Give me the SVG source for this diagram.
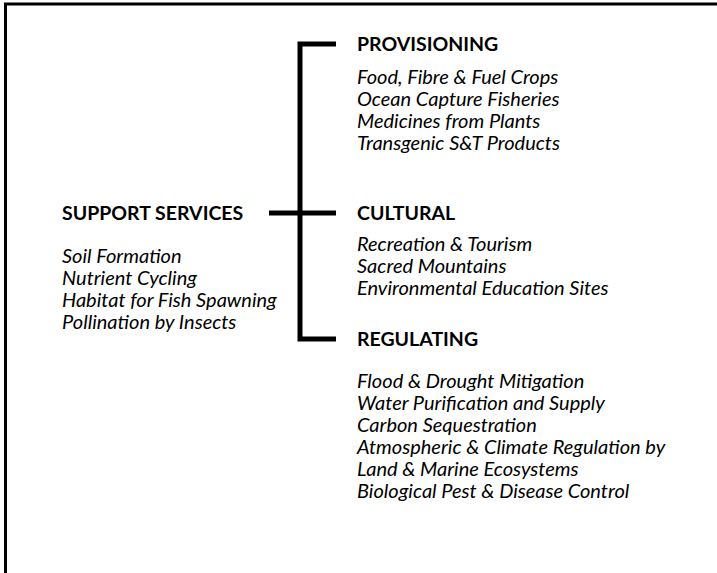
<svg xmlns="http://www.w3.org/2000/svg" width="717" height="573" viewBox="0 0 717 573">
  <style>
    .frame { fill: none; stroke: #000; stroke-width: 3; }
    .link { fill: none; stroke: #000; stroke-width: 5; stroke-linejoin: miter; }
    .head { font-family: Lato, "Open Sans", "Liberation Sans", sans-serif; font-weight: bold; font-size: 19.5px; fill: #000; }
    .item { font-family: Lato, "Open Sans", "Liberation Sans", sans-serif; font-style: italic; font-size: 20px; fill: #000; }
  </style>
  <rect width="717" height="573" fill="#fff"/>
  <!-- open frame: left and top edges only -->
  <path class="frame" d="M5.5,573 V4 H717"/>

  <!-- bracket joining the support services to the three service groups -->
  <g id="connectors">
    <path class="link" d="M336,44 H300 V339 H336"/>
    <path class="link" d="M269,213 H336"/>
  </g>

  <g id="support">
    <text class="head" x="62" y="220">SUPPORT SERVICES</text>
    <text class="item" x="62" y="263">Soil Formation</text>
    <text class="item" x="62" y="285">Nutrient Cycling</text>
    <text class="item" x="62" y="307">Habitat for Fish Spawning</text>
    <text class="item" x="62" y="329">Pollination by Insects</text>
  </g>

  <g id="provisioning">
    <text class="head" x="357" y="51">PROVISIONING</text>
    <text class="item" x="357" y="84">Food, Fibre &amp; Fuel Crops</text>
    <text class="item" x="357" y="106">Ocean Capture Fisheries</text>
    <text class="item" x="357" y="128">Medicines from Plants</text>
    <text class="item" x="357" y="150">Transgenic S&amp;T Products</text>
  </g>

  <g id="cultural">
    <text class="head" x="357" y="220">CULTURAL</text>
    <text class="item" x="357" y="251">Recreation &amp; Tourism</text>
    <text class="item" x="357" y="273">Sacred Mountains</text>
    <text class="item" x="357" y="295">Environmental Education Sites</text>
  </g>

  <g id="regulating">
    <text class="head" x="357" y="346">REGULATING</text>
    <text class="item" x="357" y="388">Flood &amp; Drought Mitigation</text>
    <text class="item" x="357" y="410">Water Purification and Supply</text>
    <text class="item" x="357" y="432">Carbon Sequestration</text>
    <text class="item" x="357" y="454">Atmospheric &amp; Climate Regulation by</text>
    <text class="item" x="357" y="476">Land &amp; Marine Ecosystems</text>
    <text class="item" x="357" y="498">Biological Pest &amp; Disease Control</text>
  </g>
</svg>
